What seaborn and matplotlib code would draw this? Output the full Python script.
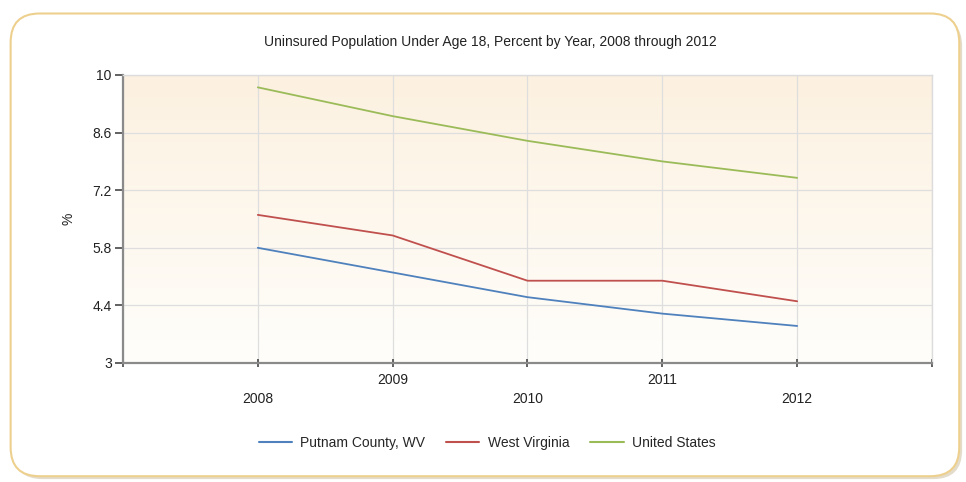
import numpy as np
import pandas as pd
import seaborn as sns
import matplotlib.pyplot as plt
from matplotlib.patches import FancyBboxPatch

# Data
years = [2008, 2009, 2010, 2011, 2012]
putnam = [5.8, 5.2, 4.6, 4.2, 3.9]
west_virginia = [6.6, 6.1, 5.0, 5.0, 4.5]
united_states = [9.7, 9.0, 8.4, 7.9, 7.5]
series_names = ['Putnam County, WV', 'West Virginia', 'United States']
y_ticks = [3, 4.4, 5.8, 7.2, 8.6, 10]

df = pd.DataFrame({
    'Year': years * 3,
    'Percent': putnam + west_virginia + united_states,
    'Series': [series_names[0]] * 5 + [series_names[1]] * 5 + [series_names[2]] * 5,
})

sns.set_style("white")
plt.rcParams['font.family'] = ['Liberation Sans', 'DejaVu Sans']

fig = plt.figure(figsize=(9.66, 4.82), dpi=100)
fig.patch.set_facecolor('white')

# rounded frame with soft shadow
shadow = FancyBboxPatch((0.014, 0.006), 0.982, 0.958, boxstyle="round,pad=0,rounding_size=0.03",
                        transform=fig.transFigure, facecolor='#e4dccb', edgecolor='none',
                        mutation_aspect=2.0, zorder=0)
frame = FancyBboxPatch((0.011, 0.012), 0.982, 0.96, boxstyle="round,pad=0,rounding_size=0.03",
                       transform=fig.transFigure, facecolor='white', edgecolor='#eed08e',
                       linewidth=1.5, mutation_aspect=2.0, zorder=1)
fig.patches.extend([shadow, frame])

ax = fig.add_axes([0.1273, 0.2469, 0.8375, 0.5975])
ax.set_zorder(2)

# peach to white gradient behind the plot
grad = np.linspace(0, 1, 256).reshape(-1, 1)
top = np.array([252, 241, 224]) / 255
bottom = np.array([255, 254, 251]) / 255
img = bottom + (top - bottom) * grad[::-1]
img = img.reshape(256, 1, 3)
ax.imshow(img, extent=[2007, 2013, 3, 10], aspect='auto', origin='upper', zorder=0)

sns.lineplot(data=df, x='Year', y='Percent', hue='Series', ax=ax,
             palette=['#4f81bd', '#c0504d', '#9bbb59'], linewidth=1.3, zorder=3)

ax.set_xlim(2007, 2013)
ax.set_ylim(3, 10)
ax.set_yticks(y_ticks)
ax.set_yticklabels(['3', '4.4', '5.8', '7.2', '8.6', '10'])
ax.set_xticks([2007] + years + [2013])
xlabels = [''] + ['\n' + str(y) if i % 2 == 0 else str(y) for i, y in enumerate(years)] + ['']
ax.set_xticklabels(xlabels, linespacing=1.5)

ax.grid(True, color='#dedede', linewidth=0.9, zorder=1)
ax.set_axisbelow(True)
for s in ['top', 'right']:
    ax.spines[s].set_color('#dcdcdc')
    ax.spines[s].set_linewidth(1.0)
for s in ['left', 'bottom']:
    ax.spines[s].set_color('#8a8a8a')
    ax.spines[s].set_linewidth(1.6)

ax.tick_params(axis='y', direction='out', length=6, width=1.3, color='#555555',
               labelsize=10, labelcolor='#222222', pad=2, left=True)
ax.tick_params(axis='x', direction='inout', length=6, width=1.3, color='#555555',
               labelsize=10, labelcolor='#222222', pad=4, bottom=True)

ax.set_xlabel('')
ax.set_ylabel('%', fontsize=10, color='#222222', labelpad=12)
fig.text(490 / 966, 1 - 42 / 482, 'Uninsured Population Under Age 18, Percent by Year, 2008 through 2012',
         fontsize=10, color='#222222', ha='center', va='center')

leg = ax.legend(loc='upper center', bbox_to_anchor=(0.45, -0.21), ncol=3, frameon=False,
                fontsize=10, handlelength=2.4, columnspacing=1.5, handletextpad=0.6)
for line in leg.get_lines():
    line.set_linewidth(1.5)

plt.savefig('out.png', dpi=100, facecolor='white')
